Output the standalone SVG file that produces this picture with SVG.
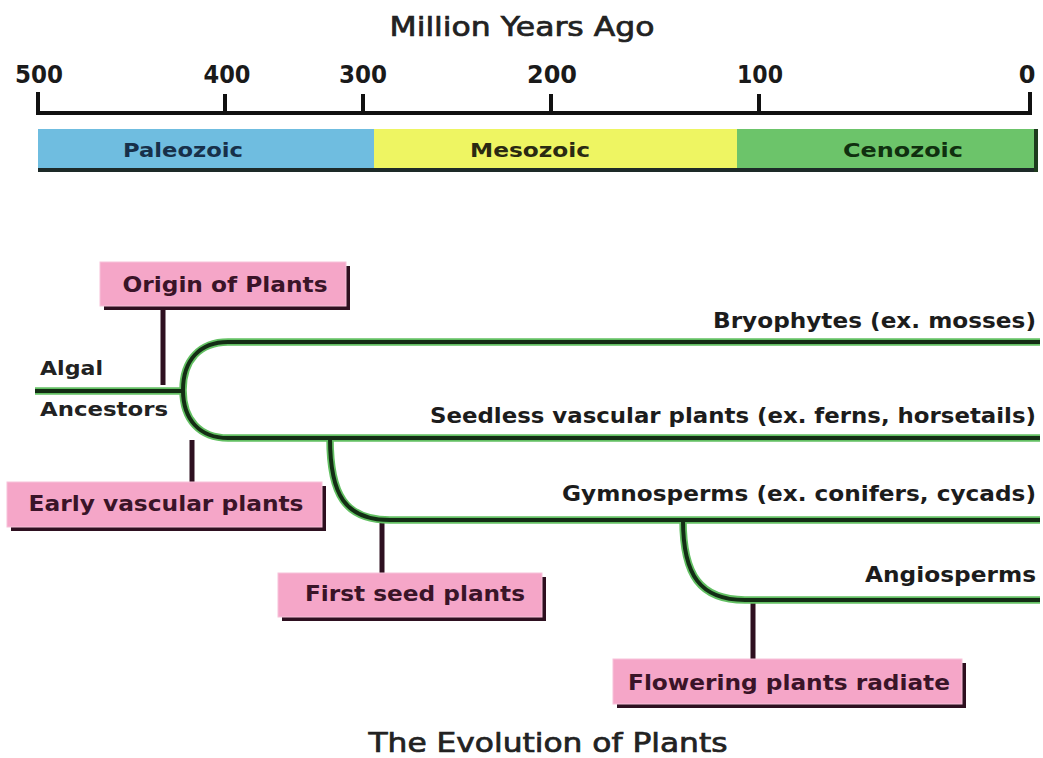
<svg xmlns="http://www.w3.org/2000/svg" width="1043" height="758" viewBox="0 0 1043 758">
<style>
text{font-family:"DejaVu Sans","Liberation Sans",sans-serif;font-weight:bold;fill:#222;}
.title{font-size:26px;font-weight:normal;text-anchor:middle;stroke:#222;stroke-width:0.7;}
.num{font-size:24px;fill:#1a1a1a;text-anchor:middle;}
.era{font-size:20px;text-anchor:middle;}
.lbl{font-size:21px;text-anchor:end;fill:#1c1c1c;}
.box{fill:#F5A6C8;stroke:#F7C2DA;stroke-width:1;}
.shadow{fill:#2e1020;}
.btxt{font-size:21px;text-anchor:middle;fill:#3a1428;}
.stem{stroke:#2e1020;stroke-width:5;fill:none;}
.glow{stroke:#63c063;stroke-width:7.5;fill:none;}
.branch{stroke:#132d14;stroke-width:4;fill:none;}
.axis{stroke:#111;stroke-width:4;fill:none;stroke-linecap:square;}
</style>
<rect width="1043" height="758" fill="#fff"/>
<g id="timescale">
<text class="title" x="522" y="36" textLength="265" lengthAdjust="spacingAndGlyphs">Million Years Ago</text>
<text class="num" x="39" y="83" textLength="48" lengthAdjust="spacingAndGlyphs">500</text>
<text class="num" x="227" y="83" textLength="47" lengthAdjust="spacingAndGlyphs">400</text>
<text class="num" x="363" y="83" textLength="48" lengthAdjust="spacingAndGlyphs">300</text>
<text class="num" x="552" y="83" textLength="50" lengthAdjust="spacingAndGlyphs">200</text>
<text class="num" x="760" y="83" textLength="46" lengthAdjust="spacingAndGlyphs">100</text>
<text class="num" x="1027" y="83">0</text>
<path class="axis" d="M38,113 H1030 M38,94 V113 M225,96 V113 M363,96 V113 M551,96 V113 M759,96 V113 M1030,94 V113"/>
</g>
<g id="eras">
<rect x="38" y="129" width="336" height="42" fill="#6FBDE0"/>
<rect x="374" y="129" width="363" height="42" fill="#EEF562"/>
<rect x="737" y="129" width="300" height="42" fill="#6CC46A"/>
<rect x="38" y="168" width="999" height="4" fill="#1d2a28"/>
<rect x="1034" y="129" width="4" height="43" fill="#1d3a1d"/>
<text class="era" x="183" y="157" textLength="120" lengthAdjust="spacingAndGlyphs" style="fill:#17304a">Paleozoic</text>
<text class="era" x="530" y="157" textLength="120" lengthAdjust="spacingAndGlyphs" style="fill:#2a2a12">Mesozoic</text>
<text class="era" x="903" y="157" textLength="120" lengthAdjust="spacingAndGlyphs" style="fill:#10300f">Cenozoic</text>
</g>
<g id="connectors">
<path class="stem" d="M163,308 V385 M192,440 V482 M382,522 V573 M753,602 V659"/>
<path class="glow" d="M35,391 H183 M1040,342 H228 C200,342 183,360 183,390 C183,420 200,438 228,438 H1040 M330,438 C330,495 345,520 390,520 H1040 M683,520 C683,575 700,600 745,600 H1040"/>
<path class="branch" d="M35,391 H183 M1040,342 H228 C200,342 183,360 183,390 C183,420 200,438 228,438 H1040 M330,438 C330,495 345,520 390,520 H1040 M683,520 C683,575 700,600 745,600 H1040"/>
</g>
<g id="algal">
<text x="40" y="375" style="font-size:20px" textLength="63" lengthAdjust="spacingAndGlyphs">Algal</text>
<text x="40" y="416" style="font-size:20px" textLength="128" lengthAdjust="spacingAndGlyphs">Ancestors</text>
</g>
<g id="bryophytes"><text class="lbl" x="1036" y="328" textLength="323" lengthAdjust="spacingAndGlyphs">Bryophytes (ex. mosses)</text></g>
<g id="seedless"><text class="lbl" x="1036" y="423" textLength="606" lengthAdjust="spacingAndGlyphs">Seedless vascular plants (ex. ferns, horsetails)</text></g>
<g id="gymnosperms"><text class="lbl" x="1036" y="501" textLength="474" lengthAdjust="spacingAndGlyphs">Gymnosperms (ex. conifers, cycads)</text></g>
<g id="angiosperms"><text class="lbl" x="1036" y="582" textLength="171" lengthAdjust="spacingAndGlyphs">Angiosperms</text></g>
<g id="origin">
<rect class="shadow" x="104" y="266" width="246" height="44"/>
<rect class="box" x="100" y="262" width="246" height="44"/>
<text class="btxt" x="225" y="292" textLength="205" lengthAdjust="spacingAndGlyphs">Origin of Plants</text>
</g>
<g id="early">
<rect class="shadow" x="11" y="486" width="315" height="45"/>
<rect class="box" x="7" y="482" width="315" height="45"/>
<text class="btxt" x="166" y="511" textLength="275" lengthAdjust="spacingAndGlyphs">Early vascular plants</text>
</g>
<g id="firstseed">
<rect class="shadow" x="282" y="577" width="264" height="44"/>
<rect class="box" x="278" y="573" width="264" height="44"/>
<text class="btxt" x="415" y="601" textLength="220" lengthAdjust="spacingAndGlyphs">First seed plants</text>
</g>
<g id="flowering">
<rect class="shadow" x="617" y="663" width="349" height="45"/>
<rect class="box" x="613" y="659" width="349" height="45"/>
<text class="btxt" x="789" y="690" textLength="322" lengthAdjust="spacingAndGlyphs">Flowering plants radiate</text>
</g>
<g id="title">
<text class="title" x="548" y="752" textLength="359" lengthAdjust="spacingAndGlyphs">The Evolution of Plants</text>
</g>
</svg>
